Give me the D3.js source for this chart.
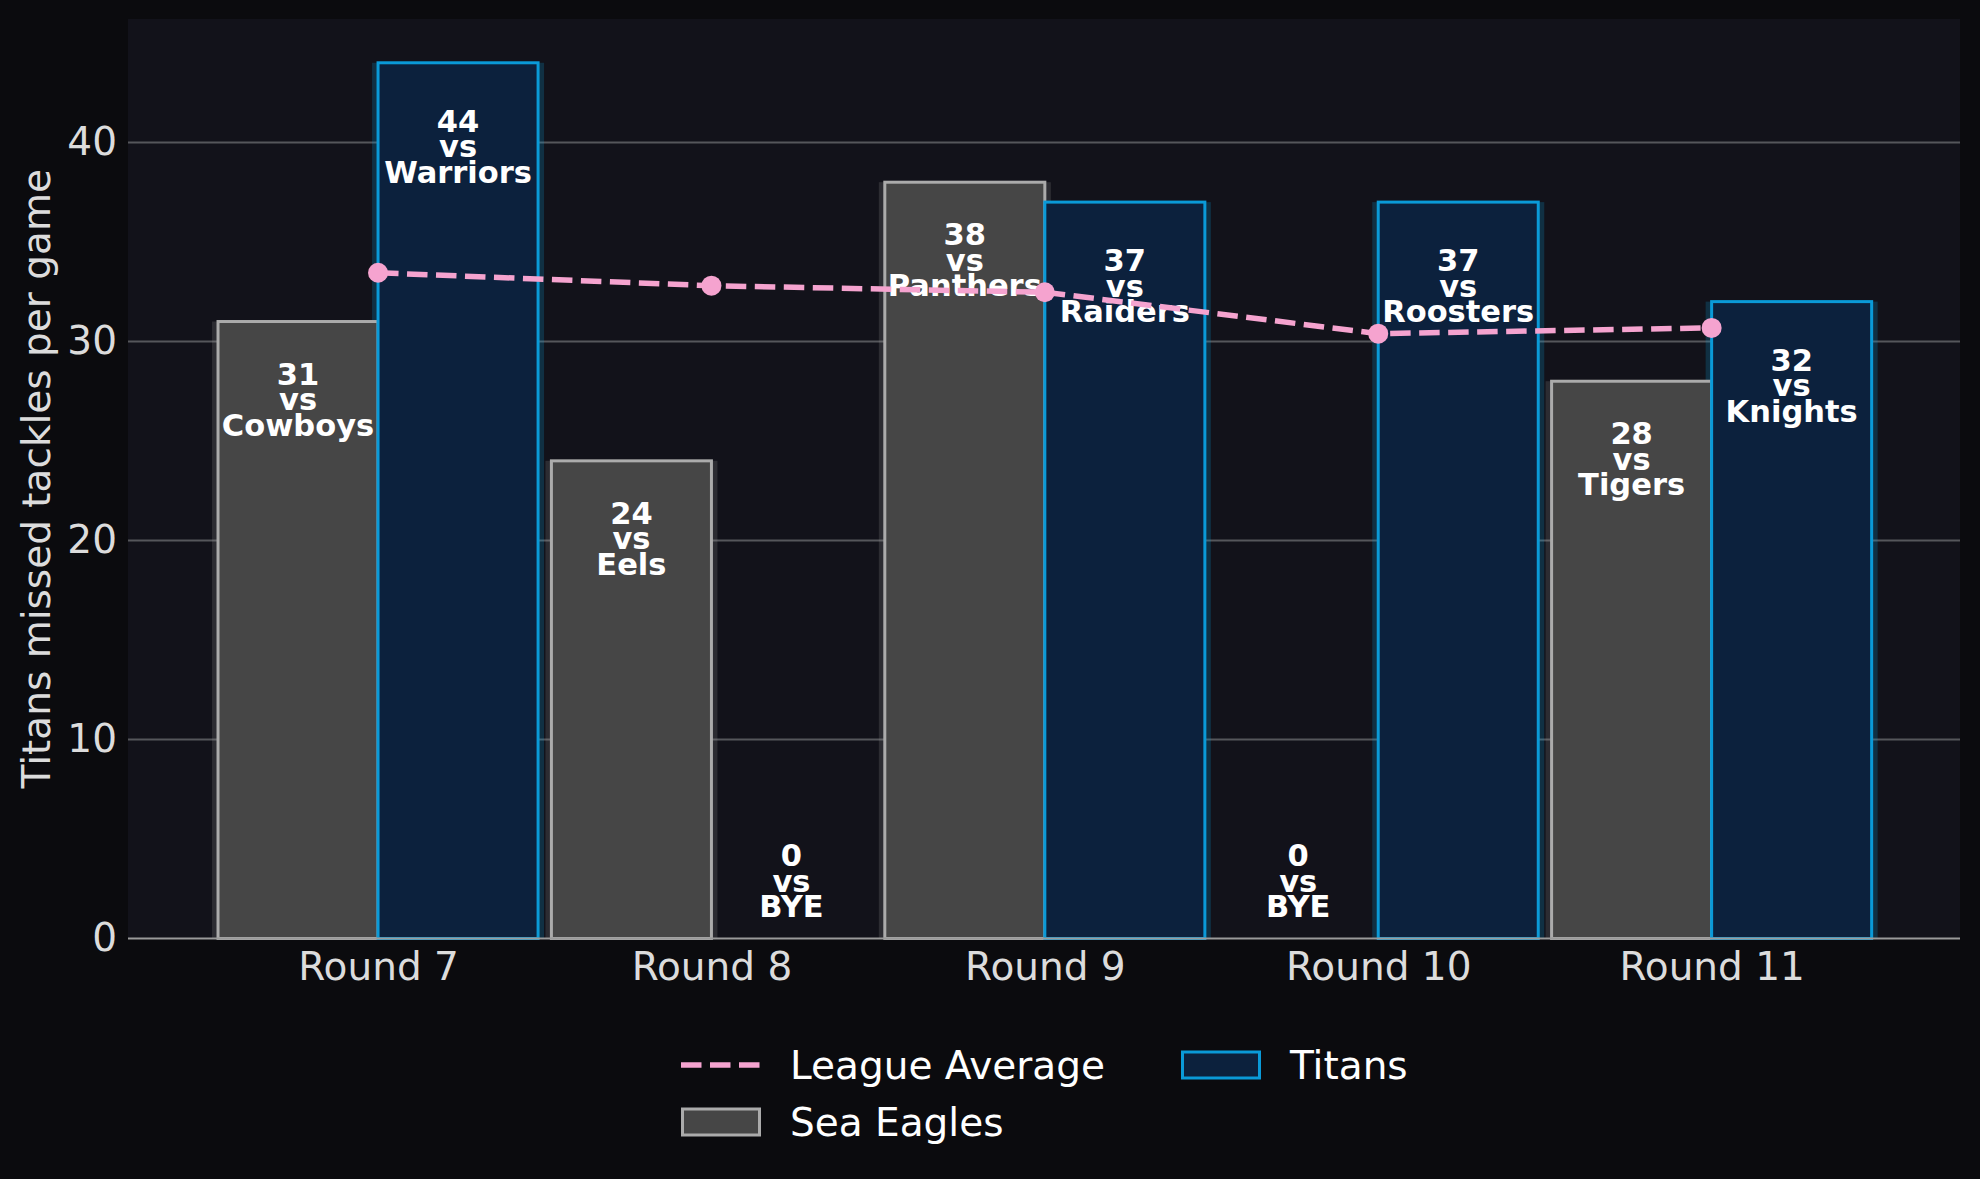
<!DOCTYPE html>
<html>
<head>
<meta charset="utf-8">
<script src="https://cdn.jsdelivr.net/npm/d3@7"></script>
<style>
  html, body { margin: 0; padding: 0; background: #0b0b0e; }
  svg { display: block; font-family: "DejaVu Sans", sans-serif; }
</style>
</head>
<body>
<svg id="chart" width="1980" height="1179"></svg>
<script>
// chart data
const rounds = ['Round 7', 'Round 8', 'Round 9', 'Round 10', 'Round 11'];
const seaEaglesMissed = [31, 24, 38, 0, 28];
const seaEaglesOpponents = ['Cowboys', 'Eels', 'Panthers', 'BYE', 'Tigers'];
const titansMissed = [44, 0, 37, 37, 32];
const titansOpponents = ['Warriors', 'BYE', 'Raiders', 'Roosters', 'Knights'];
const leagueAverage = [33.45, 32.8, 32.47, 30.39, 30.68];
const yTicks = [0, 10, 20, 30, 40];

const W = 1980, H = 1179;
const plot = { left: 128, right: 1960, top: 19, bottom: 938.5 };
const barWidth = 0.48;
const fontSize = 39;

const colors = {
    figBg: '#0b0b0e',
    axBg: '#12121a',
    grid: '#55565b',
    spine: '#9a9a9a',
    tick: '#dcdcdc',
    seFill: '#464646',
    seEdge: '#ababab',
    tiFill: '#0c213d',
    tiEdge: '#0a9ad8',
    avg: '#f5a3cf'
};

const svg = d3.select('#chart');
svg.append('rect').attr('width', W).attr('height', H).attr('fill', colors.figBg);

const x = d3.scaleLinear().domain([-0.75, 4.745]).range([plot.left, plot.right]);
const y = d3.scaleLinear().domain([0, 46.2]).range([plot.bottom, plot.top]);

// axes background
svg.append('rect')
    .attr('x', plot.left).attr('y', plot.top)
    .attr('width', plot.right - plot.left).attr('height', plot.bottom - plot.top)
    .attr('fill', colors.axBg);

// grid lines
svg.append('g').selectAll('line')
    .data(yTicks.filter(d => d > 0))
    .join('line')
    .attr('x1', plot.left).attr('x2', plot.right)
    .attr('y1', d => y(d)).attr('y2', d => y(d))
    .attr('stroke', colors.grid).attr('stroke-width', 2);

// build one record per bar
const bars = [];
rounds.forEach((r, i) => {
    bars.push({ i: i, off: -barWidth, v: seaEaglesMissed[i], opp: seaEaglesOpponents[i], drop: 4.45,
        fill: colors.seFill, edge: colors.seEdge, glow: 'rgba(150,150,150,0.2)' });
    bars.push({ i: i, off: 0, v: titansMissed[i], opp: titansOpponents[i], drop: 4.75,
        fill: colors.tiFill, edge: colors.tiEdge, glow: 'rgba(10,154,216,0.22)' });
});

// soft glow behind bars
svg.append('g').selectAll('rect')
    .data(bars.filter(d => d.v > 0))
    .join('rect')
    .attr('x', d => x(d.i + d.off) - 6)
    .attr('width', d => x(d.i + d.off + barWidth) - x(d.i + d.off) + 12)
    .attr('y', d => y(d.v))
    .attr('height', d => y(0) - y(d.v))
    .attr('fill', d => d.glow);

// bars
svg.append('g').selectAll('rect')
    .data(bars)
    .join('rect')
    .attr('x', d => x(d.i + d.off))
    .attr('width', d => x(d.i + d.off + barWidth) - x(d.i + d.off))
    .attr('y', d => y(d.v))
    .attr('height', d => y(0) - y(d.v))
    .attr('fill', d => d.fill)
    .attr('stroke', d => d.edge)
    .attr('stroke-width', 3);

// bottom spine
svg.append('line')
    .attr('x1', plot.left).attr('x2', plot.right)
    .attr('y1', plot.bottom).attr('y2', plot.bottom)
    .attr('stroke', colors.spine).attr('stroke-width', 2);

// bar labels
const labels = svg.append('g')
    .attr('fill', '#ffffff')
    .attr('font-weight', 'bold')
    .attr('font-size', 30.5)
    .attr('text-anchor', 'middle');
bars.forEach(d => {
    const cx = x(d.i + d.off + barWidth / 2);
    const cy = y(d.v > 0 ? d.v - d.drop : 2.35);
    const t = labels.append('text').attr('x', cx).attr('y', cy);
    t.append('tspan').attr('x', cx).attr('dy', -25.5).text(d.v);
    t.append('tspan').attr('x', cx).attr('dy', 25.5).text('vs');
    t.append('tspan').attr('x', cx).attr('dy', 25.5).text(d.opp);
});

// league average line
const line = d3.line().x((d, i) => x(i)).y(d => y(d));
svg.append('path')
    .datum(leagueAverage)
    .attr('d', line)
    .attr('fill', 'none')
    .attr('stroke', colors.avg)
    .attr('stroke-width', 5.5)
    .attr('stroke-dasharray', '20.5 8.5');
svg.append('g').selectAll('circle')
    .data(leagueAverage)
    .join('circle')
    .attr('cx', (d, i) => x(i))
    .attr('cy', d => y(d))
    .attr('r', 10)
    .attr('fill', colors.avg);

// axes
const xAxis = d3.axisBottom(x)
    .tickValues(d3.range(rounds.length))
    .tickFormat(i => rounds[i])
    .tickSize(0).tickPadding(14);
const gx = svg.append('g').attr('transform', `translate(0,${plot.bottom})`).call(xAxis);
gx.select('.domain').remove();
gx.selectAll('text')
    .attr('font-family', '"DejaVu Sans", sans-serif')
    .attr('font-size', fontSize)
    .attr('fill', colors.tick)
    .attr('dy', '0.71em');

const yAxis = d3.axisLeft(y).tickValues(yTicks).tickSize(0).tickPadding(11);
const gy = svg.append('g').attr('transform', `translate(${plot.left},0)`).call(yAxis);
gy.select('.domain').remove();
gy.selectAll('text')
    .attr('font-family', '"DejaVu Sans", sans-serif')
    .attr('font-size', fontSize)
    .attr('fill', colors.tick);

svg.append('text')
    .attr('transform', `translate(50,${(plot.top + plot.bottom) / 2}) rotate(-90)`)
    .attr('text-anchor', 'middle')
    .attr('font-size', fontSize)
    .attr('fill', colors.tick)
    .text('Titans missed tackles per game');

// legend
const legend = svg.append('g').attr('font-size', fontSize).attr('fill', '#ffffff');
const items = [
    { label: 'League Average', kind: 'line', x: 681, y: 1065 },
    { label: 'Sea Eagles', kind: 'se', x: 681, y: 1122 },
    { label: 'Titans', kind: 'ti', x: 1181, y: 1065 }
];
items.forEach(it => {
    if (it.kind === 'line') {
        legend.append('line')
            .attr('x1', it.x).attr('x2', it.x + 79)
            .attr('y1', it.y).attr('y2', it.y)
            .attr('stroke', colors.avg).attr('stroke-width', 5.5)
            .attr('stroke-dasharray', '20.5 8.5');
    } else {
        legend.append('rect')
            .attr('x', it.x + 1.5).attr('y', it.y - 13)
            .attr('width', 77).attr('height', 26)
            .attr('fill', it.kind === 'se' ? colors.seFill : colors.tiFill)
            .attr('stroke', it.kind === 'se' ? colors.seEdge : colors.tiEdge)
            .attr('stroke-width', 3);
    }
    legend.append('text')
        .attr('x', it.x + 109).attr('y', it.y + 14)
        .text(it.label);
});
</script>
</body>
</html>
